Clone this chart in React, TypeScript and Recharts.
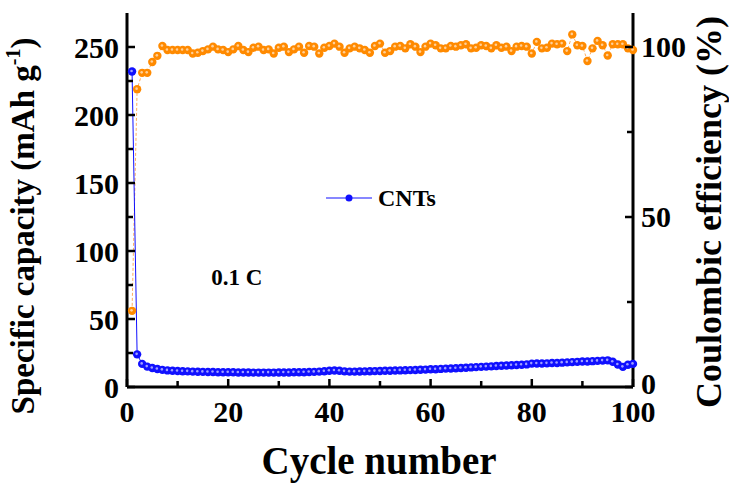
import React from 'react';
import { ComposedChart, Line, XAxis, YAxis, ReferenceDot } from 'recharts';

const cycles = [
  1, 2, 3, 4, 5, 6, 7, 8, 9, 10,
  11, 12, 13, 14, 15, 16, 17, 18, 19, 20,
  21, 22, 23, 24, 25, 26, 27, 28, 29, 30,
  31, 32, 33, 34, 35, 36, 37, 38, 39, 40,
  41, 42, 43, 44, 45, 46, 47, 48, 49, 50,
  51, 52, 53, 54, 55, 56, 57, 58, 59, 60,
  61, 62, 63, 64, 65, 66, 67, 68, 69, 70,
  71, 72, 73, 74, 75, 76, 77, 78, 79, 80,
  81, 82, 83, 84, 85, 86, 87, 88, 89, 90,
  91, 92, 93, 94, 95, 96, 97, 98, 99, 100,
];

const capacity = [
  232, 24, 17, 15, 14, 13.2, 12.6, 12.2, 12, 11.8,
  11.6, 11.5, 11.3, 11.2, 11.1, 11, 11, 10.9, 10.9, 10.8,
  10.8, 10.7, 10.7, 10.7, 10.6, 10.6, 10.6, 10.6, 10.6, 10.7,
  10.7, 10.7, 10.8, 10.8, 10.9, 11, 11.1, 11.3, 11.6, 11.9,
  12.1, 11.9, 11.5, 11.3, 11.3, 11.4, 11.5, 11.6, 11.7, 11.8,
  11.9, 12, 12.1, 12.2, 12.3, 12.4, 12.5, 12.7, 12.8, 13,
  13.1, 13.3, 13.5, 13.6, 13.8, 14, 14.2, 14.4, 14.6, 14.8,
  15, 15.2, 15.4, 15.6, 15.8, 16, 16.2, 16.4, 16.6, 17.2,
  17.3, 17.3, 17.4, 17.6, 17.7, 17.9, 18.1, 18.3, 18.5, 18.7,
  18.8, 19, 19.2, 19.4, 19.6, 18.6, 16.5, 14.8, 16.4, 17,
];

const efficiency = [
  22.4, 87.6, 92.4, 92.4, 95.6, 97.4, 100.3, 99.1, 99.1, 99.1,
  99.1, 99.1, 98.1, 98.3, 98.8, 99.3, 100.1, 99.3, 99.1, 98.5,
  99.3, 100.3, 99.1, 98.5, 99.8, 100.1, 99.1, 99.3, 98.1, 99.8,
  100.1, 98.5, 99.3, 100.1, 98.3, 100.3, 100.1, 98.1, 99.8, 100.3,
  101, 100.1, 98.3, 99.6, 100.1, 99.6, 99.1, 98.3, 100.3, 101,
  98.3, 98.8, 100.1, 100.3, 99.6, 100.8, 100.1, 98.5, 100.1, 101,
  100.5, 99.6, 99.6, 100.3, 100.1, 100.5, 100.8, 99.6, 99.8, 100.5,
  100.3, 99.6, 100.5, 99.8, 100.1, 98.8, 100.1, 100.3, 100.1, 98.1,
  101.5, 99.6, 99.8, 101, 100.8, 101, 98.8, 103.7, 100.5, 100.3,
  95.9, 99.6, 101.8, 100.5, 97.5, 100.8, 100.8, 100.8, 99.6, 99.1,
];

const xTicks = [0, 10, 20, 30, 40, 50, 60, 70, 80, 90, 100];
const xLabels = [0, 20, 40, 60, 80, 100];
const capTicks = [0, 25, 50, 75, 100, 125, 150, 175, 200, 225, 250];
const capLabels = [0, 50, 100, 150, 200, 250];
const ceTicks = [0, 25, 50, 75, 100];
const ceLabels = [0, 50, 100];

const seriesName = 'CNTs';
const rateNote = '0.1 C';

const data = cycles.map((c, i) => ({ cycle: c, capacity: capacity[i], efficiency: efficiency[i] }));

const FONT = '"Liberation Serif", "Times New Roman", serif';
const BLUE = '#1010ff';
const ORANGE = '#ff8a00';

const XTick = (props: any) => {
  const { x, y, payload } = props;
  const major = xLabels.includes(payload.value);
  return (
    <g>
      <line x1={x} y1={y} x2={x} y2={y - (major ? 8 : 6)} stroke="#000" strokeWidth={2.5} />
      {major && (
        <text x={x} y={y + 35} textAnchor="middle" fontSize={30} fontWeight="bold" fontFamily={FONT} fill="#000">
          {payload.value}
        </text>
      )}
    </g>
  );
};

const LeftTick = (props: any) => {
  const { x, y, payload } = props;
  const major = capLabels.includes(payload.value);
  return (
    <g>
      <line x1={x} y1={y} x2={x + (major ? 8 : 6)} y2={y} stroke="#000" strokeWidth={2.5} />
      {major && (
        <text x={x - 8} y={y} dy="0.35em" textAnchor="end" fontSize={30} fontWeight="bold" fontFamily={FONT} fill="#000">
          {payload.value}
        </text>
      )}
    </g>
  );
};

const RightTick = (props: any) => {
  const { x, y, payload } = props;
  const major = ceLabels.includes(payload.value);
  const shift = payload.value === 0 ? '0.22em' : '0.33em';
  return (
    <g>
      <line x1={x} y1={y} x2={x - (major ? 8 : 6)} y2={y} stroke="#000" strokeWidth={2.5} />
      {major && (
        <text x={x + 8} y={y} dy={shift} textAnchor="start" fontSize={30} fontWeight="bold" fontFamily={FONT} fill="#000">
          {payload.value}
        </text>
      )}
    </g>
  );
};

const makeDot = (color: string) => (props: any) => {
  const { cx, cy, index } = props;
  if (cx == null || cy == null) return <g key={index} />;
  return (
    <g key={index}>
      <circle cx={cx} cy={cy} r={4.2} fill={color} />
      <circle cx={cx - 0.5} cy={cy - 0.5} r={1.3} fill="#fff" fillOpacity={0.6} />
    </g>
  );
};

const XTitle = () => (
  <text x={379} y={474} textAnchor="middle" fontSize={39} fontWeight="bold" fontFamily={FONT} fill="#000">
    Cycle number
  </text>
);

const LeftTitle = () => (
  <text
    x={0}
    y={0}
    transform="translate(34, 226) rotate(-90)"
    textAnchor="middle"
    fontSize={33}
    fontWeight="bold"
    fontFamily={FONT}
    fill="#000"
  >
    Specific capacity (mAh g
    <tspan fontSize={20} dy={-14}>-1</tspan>
    <tspan dy={14}>)</tspan>
  </text>
);

const RightTitle = () => (
  <text
    x={0}
    y={0}
    transform="translate(721, 212) rotate(-90)"
    textAnchor="middle"
    fontSize={36}
    fontWeight="bold"
    fontFamily={FONT}
    fill="#000"
  >
    Coulombic efficiency (%)
  </text>
);

export default function App() {
  return (
    <div style={{ position: 'absolute', left: 0, top: 0, width: 729, height: 483, background: '#fff' }}>
      <ComposedChart width={729} height={483} data={data} margin={{ top: 13, right: 0, bottom: 0, left: 0 }}>
        <XAxis
          xAxisId="bottom"
          dataKey="cycle"
          type="number"
          domain={[0, 100]}
          ticks={xTicks}
          interval={0}
          height={96}
          tickSize={0}
          tickMargin={0}
          tickLine={false}
          tick={<XTick />}
          axisLine={{ stroke: '#000', strokeWidth: 3 }}
          label={<XTitle />}
        />
        <XAxis
          xAxisId="top"
          orientation="top"
          dataKey="cycle"
          type="number"
          domain={[0, 100]}
          height={0}
          tick={false}
          tickLine={false}
          axisLine={{ stroke: '#000', strokeWidth: 3 }}
        />
        <YAxis
          yAxisId="left"
          type="number"
          domain={[0, 275]}
          ticks={capTicks}
          interval={0}
          width={127}
          tickSize={0}
          tickMargin={0}
          tickLine={false}
          tick={<LeftTick />}
          axisLine={{ stroke: '#000', strokeWidth: 3 }}
          label={<LeftTitle />}
        />
        <YAxis
          yAxisId="right"
          orientation="right"
          type="number"
          domain={[0, 110]}
          ticks={ceTicks}
          interval={0}
          width={96}
          tickSize={0}
          tickMargin={0}
          tickLine={false}
          tick={<RightTick />}
          axisLine={{ stroke: '#000', strokeWidth: 3 }}
          label={<RightTitle />}
        />
        <Line
          xAxisId="bottom"
          yAxisId="right"
          dataKey="efficiency"
          stroke="#ffad5c"
          strokeWidth={1}
          strokeDasharray="3 2"
          dot={makeDot(ORANGE)}
          isAnimationActive={false}
          legendType="none"
        />
        <Line
          xAxisId="bottom"
          yAxisId="left"
          dataKey="capacity"
          name={seriesName}
          stroke={BLUE}
          strokeWidth={1}
          dot={makeDot(BLUE)}
          isAnimationActive={false}
        />
        <ReferenceDot
          xAxisId="bottom"
          yAxisId="left"
          x={21.7}
          y={81}
          r={0}
          fill="none"
          stroke="none"
          label={{ value: rateNote, position: 'center', fontSize: 23, fontWeight: 'bold', fontFamily: FONT, fill: '#000' }}
        />
      </ComposedChart>
      <div style={{ position: 'absolute', left: 320, top: 180, width: 140, height: 36 }}>
        <svg width={140} height={36} style={{ display: 'block' }}>
          <line x1={6} y1={18} x2={52} y2={18} stroke={BLUE} strokeWidth={1.2} />
          <circle cx={29} cy={18} r={3.5} fill={BLUE} />
          <text x={58} y={26} fontSize={24} fontWeight="bold" fontFamily={FONT} fill="#000">
            {seriesName}
          </text>
        </svg>
      </div>
    </div>
  );
}
